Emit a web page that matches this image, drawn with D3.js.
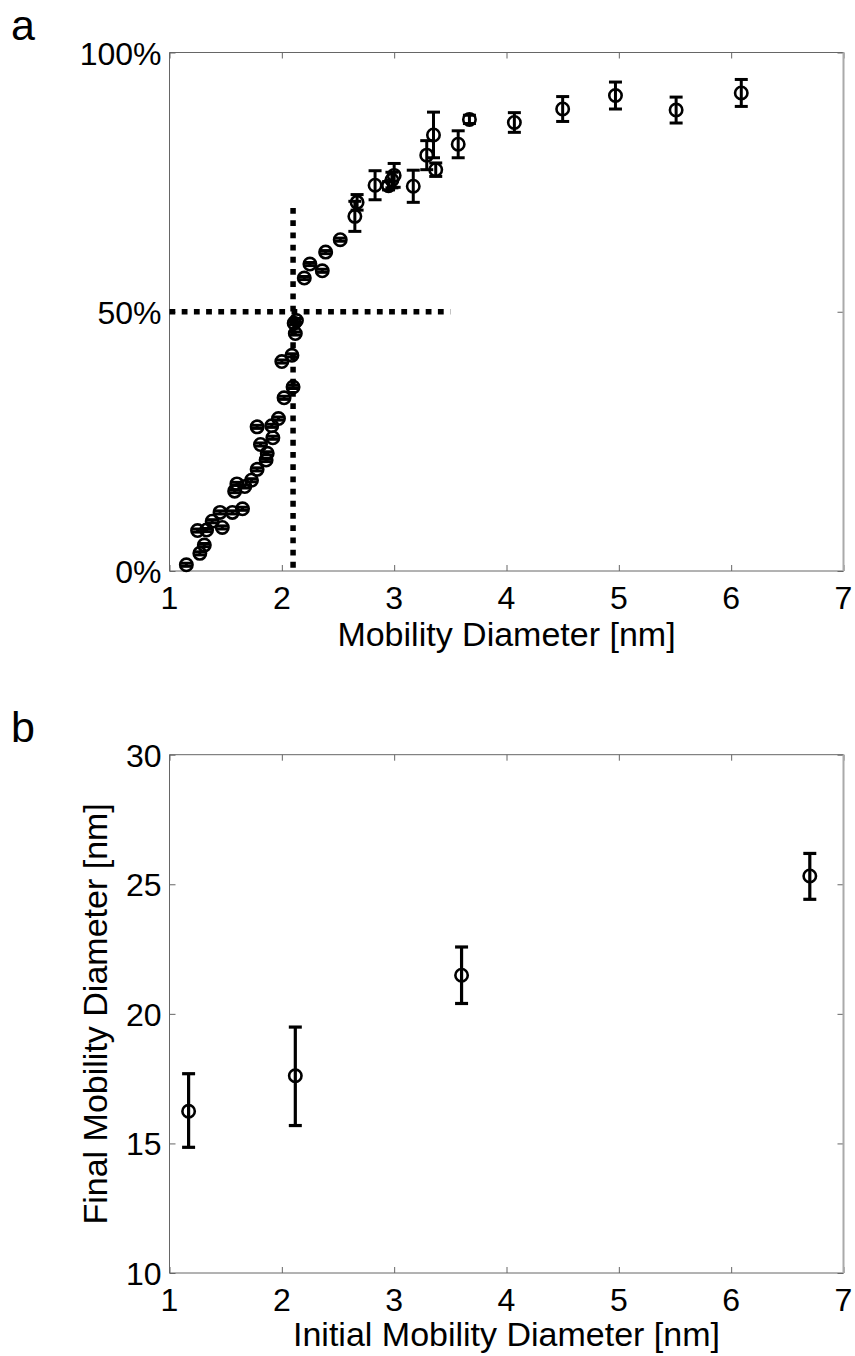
<!DOCTYPE html>
<html>
<head>
<meta charset="utf-8">
<script src="https://cdn.jsdelivr.net/npm/d3@7"></script>
<style>
  html, body { margin: 0; padding: 0; background: #fff; }
  svg { display: block; }
  text { font-family: "Liberation Sans", Arial, sans-serif; fill: #000; }
</style>
</head>
<body>
<script>
// ---------- Panel a data ----------
const aX   = [1.15, 1.27, 1.31, 1.25, 1.33, 1.38, 1.47, 1.45, 1.56, 1.65, 1.58, 1.60, 1.67, 1.73, 1.78, 1.86, 1.87, 1.81, 1.92, 1.78, 1.91, 1.97, 2.02, 2.10, 2.00, 2.09, 2.12, 2.11, 2.13, 2.20, 2.25, 2.36, 2.39, 2.52, 2.65, 2.67, 2.83, 2.95, 2.98, 3.00, 3.17, 3.29, 3.35, 3.37, 3.57, 3.67, 4.07, 4.50, 4.97, 5.51, 6.09];
const aY   = [1.2, 3.4, 5.0, 7.8, 7.9, 9.6, 8.4, 11.3, 11.3, 12.0, 15.4, 16.8, 16.3, 17.5, 19.6, 21.4, 22.7, 24.4, 25.7, 27.8, 28.0, 29.4, 33.4, 35.5, 40.4, 41.6, 45.8, 47.8, 48.3, 56.5, 59.2, 57.9, 61.5, 63.9, 68.4, 71.1, 74.4, 74.3, 75.4, 76.3, 74.2, 80.2, 84.1, 77.4, 82.3, 87.1, 86.5, 89.1, 91.7, 88.9, 92.2];
const aErr = [0.3, 0.3, 0.3, 0.3, 0.3, 0.3, 0.3, 0.3, 0.3, 0.3, 0.3, 0.3, 0.3, 0.3, 0.3, 0.3, 0.3, 0.3, 0.3, 0.3, 0.3, 0.3, 0.3, 0.3, 0.3, 0.3, 0.3, 0.3, 0.4, 0.3, 0.3, 0.3, 0.3, 0.3, 2.9, 1.5, 2.8, 0.8, 1.5, 2.3, 3.1, 2.8, 4.4, 1.3, 2.6, 0.8, 1.9, 2.4, 2.6, 2.5, 2.6];
const aXTicks = [1, 2, 3, 4, 5, 6, 7];
const aYTicks = [0, 50, 100];
const aYTickLabels = ["0%", "50%", "100%"];
const aRefX = 2.1;     // vertical dotted reference
const aRefY = 50;      // horizontal dotted reference
const aRefXTop = 70;
const aRefYEnd = 3.5;

// ---------- Panel b data ----------
const bX  = [1.17, 2.12, 3.60, 6.70];
const bY  = [16.24, 17.61, 21.49, 25.32];
const bLo = [14.85, 15.69, 20.40, 24.42];
const bHi = [17.69, 19.49, 22.58, 26.19];
const bXTicks = [1, 2, 3, 4, 5, 6, 7];
const bYTicks = [10, 15, 20, 25, 30];

const W = 855, H = 1356;
const svg = d3.select("body").append("svg").attr("width", W).attr("height", H);

const axisColor = "#666";
const left = 169.5, right = 843.5;

function frame(g, x, y, xTicks, yTicks, yLabels) {
  const [x0, x1] = x.range();
  const [y0, y1] = y.range(); // y0 bottom, y1 top
  // tick marks (inward) via d3 axes
  const tickLen = 6;
  const ax = [
    {a: d3.axisBottom(x).tickValues(xTicks).tickSize(-tickLen).tickFormat(""), t: `translate(0,${y0})`},
    {a: d3.axisTop(x).tickValues(xTicks).tickSize(-tickLen).tickFormat(""), t: `translate(0,${y1})`},
    {a: d3.axisLeft(y).tickValues(yTicks).tickSize(-tickLen).tickFormat(""), t: `translate(${x0},0)`},
    {a: d3.axisRight(y).tickValues(yTicks).tickSize(-tickLen).tickFormat(""), t: `translate(${x1},0)`}
  ];
  ax.forEach(o => {
    const gg = g.append("g").attr("transform", o.t).call(o.a);
    gg.select(".domain").remove();
    gg.selectAll("line").attr("stroke", axisColor).attr("stroke-width", 1);
  });
  // box
  g.append("line").attr("x1", x0).attr("x2", x1).attr("y1", y1).attr("y2", y1).attr("stroke", axisColor);
  g.append("line").attr("x1", x0).attr("x2", x1).attr("y1", y0).attr("y2", y0).attr("stroke", axisColor);
  g.append("line").attr("x1", x0).attr("x2", x0).attr("y1", y0).attr("y2", y1).attr("stroke", axisColor);
  g.append("line").attr("x1", x1).attr("x2", x1).attr("y1", y0).attr("y2", y1).attr("stroke", "#aaa").attr("stroke-width", 2);
  // tick labels
  g.selectAll(".xl").data(xTicks).enter().append("text")
    .attr("x", d => x(d)).attr("y", y0 + 37.5)
    .attr("text-anchor", "middle").attr("font-size", 32).text(d => d);
  g.selectAll(".yl").data(yTicks).enter().append("text")
    .attr("x", x0 - 8).attr("y", d => y(d) + 12)
    .attr("text-anchor", "end").attr("font-size", 32)
    .text((d, i) => yLabels ? yLabels[i] : d);
}

// ---------- Panel a ----------
const xa = d3.scaleLinear().domain([1, 7]).range([left, right]);
const ya = d3.scaleLinear().domain([0, 100]).range([571, 52.5]);
const ga = svg.append("g");
frame(ga, xa, ya, aXTicks, aYTicks, aYTickLabels);

// dotted reference lines
ga.append("line")
  .attr("x1", xa(1)).attr("x2", xa(aRefYEnd))
  .attr("y1", ya(aRefY)).attr("y2", ya(aRefY))
  .attr("stroke", "#000").attr("stroke-width", 5.5).attr("stroke-dasharray", "5.8,6.4");
ga.append("line")
  .attr("x1", xa(aRefX)).attr("x2", xa(aRefX))
  .attr("y1", ya(aRefXTop)).attr("y2", ya(0))
  .attr("stroke", "#000").attr("stroke-width", 5.5).attr("stroke-dasharray", "5.8,6.4");

const aData = aX.map((d, i) => ({x: d, y: aY[i], e: aErr[i]}));
const capA = 6.5;
const ea = ga.append("g").attr("stroke", "#000").attr("stroke-width", 3).attr("fill", "none");
aData.forEach(d => {
  const px = xa(d.x), top = ya(d.y + d.e), bot = ya(d.y - d.e);
  ea.append("line").attr("x1", px).attr("x2", px).attr("y1", top).attr("y2", bot);
  ea.append("line").attr("x1", px - capA).attr("x2", px + capA).attr("y1", top).attr("y2", top);
  ea.append("line").attr("x1", px - capA).attr("x2", px + capA).attr("y1", bot).attr("y2", bot);
});
ga.append("g").selectAll("circle").data(aData).enter().append("circle")
  .attr("cx", d => xa(d.x)).attr("cy", d => ya(d.y)).attr("r", 6.2)
  .attr("fill", "none").attr("stroke", "#000").attr("stroke-width", 2.6);

ga.append("text").attr("x", (left + right) / 2).attr("y", 646)
  .attr("text-anchor", "middle").attr("font-size", 34).text("Mobility Diameter [nm]");
svg.append("text").attr("x", 11).attr("y", 40).attr("font-size", 43).text("a");

// ---------- Panel b ----------
const xb = d3.scaleLinear().domain([1, 7]).range([left, right]);
const yb = d3.scaleLinear().domain([10, 30]).range([1273, 754.7]);
const gb = svg.append("g");
frame(gb, xb, yb, bXTicks, bYTicks, null);

const bData = bX.map((d, i) => ({x: d, y: bY[i], lo: bLo[i], hi: bHi[i]}));
const eb = gb.append("g").attr("stroke", "#000").attr("stroke-width", 3.2).attr("fill", "none");
bData.forEach(d => {
  const px = xb(d.x), top = yb(d.hi), bot = yb(d.lo);
  eb.append("line").attr("x1", px).attr("x2", px).attr("y1", top).attr("y2", bot);
  eb.append("line").attr("x1", px - capA).attr("x2", px + capA).attr("y1", top).attr("y2", top);
  eb.append("line").attr("x1", px - capA).attr("x2", px + capA).attr("y1", bot).attr("y2", bot);
});
gb.append("g").selectAll("circle").data(bData).enter().append("circle")
  .attr("cx", d => xb(d.x)).attr("cy", d => yb(d.y)).attr("r", 6.2)
  .attr("fill", "none").attr("stroke", "#000").attr("stroke-width", 2.6);

gb.append("text").attr("x", (left + right) / 2).attr("y", 1346)
  .attr("text-anchor", "middle").attr("font-size", 34).text("Initial Mobility Diameter [nm]");
gb.append("text")
  .attr("transform", `translate(107,${(1273 + 754.7) / 2}) rotate(-90)`)
  .attr("text-anchor", "middle").attr("font-size", 34).text("Final Mobility Diameter [nm]");
svg.append("text").attr("x", 11).attr("y", 742).attr("font-size", 43).text("b");
</script>
</body>
</html>
